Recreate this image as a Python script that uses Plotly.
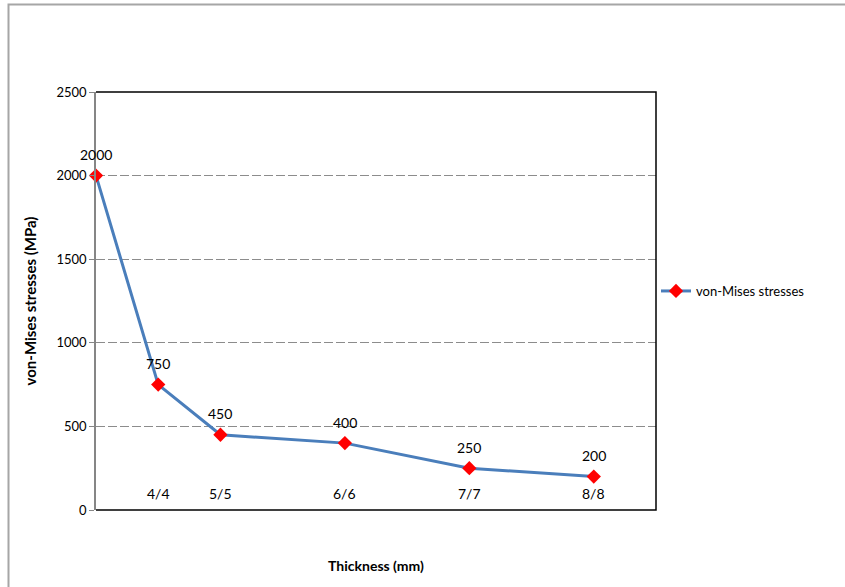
import plotly.graph_objects as go

# Thickness positions and von-Mises stress results
x_pos = [0, 1, 2, 4, 6, 8]
stress = [2000, 750, 450, 400, 250, 200]
tick_pos = [1, 2, 4, 6, 8]
tick_text = ["4/4", "5/5", "6/6", "7/7", "8/8"]
y_ticks = [0, 500, 1000, 1500, 2000, 2500]

FONT = "Lato, Open Sans, sans-serif"
W, H = 845, 587
ML, MR, MT, MB = 96, 189, 92, 77
pw, ph = W - ML - MR, H - MT - MB

fig = go.Figure()
fig.add_trace(go.Scatter(
    x=x_pos, y=stress, mode="lines+markers",
    name="von-Mises stresses",
    line=dict(color="#4A7EBB", width=3),
    marker=dict(symbol="diamond", size=11, color="#FF0000"),
    cliponaxis=False,
))

def px_x(p):
    return (p - ML) / pw

def px_y(p):
    return (H - MB - p) / ph

annotations = []
# value labels above each point
for xv, yv in zip(x_pos, stress):
    annotations.append(dict(x=xv, y=yv, xref="x", yref="y", text=str(yv),
                            showarrow=False, yshift=21, yanchor="middle",
                            font=dict(family=FONT, size=14, color="#000000")))
# thickness labels sitting just above the bottom axis
for xv, t in zip(tick_pos, tick_text):
    annotations.append(dict(x=xv, y=0, xref="x", yref="y", text=t,
                            showarrow=False, yshift=17, yanchor="middle",
                            font=dict(family=FONT, size=14, color="#000000")))

shapes = [
    # plot frame: top, right and bottom in black
    dict(type="path", xref="paper", yref="paper",
         path="M 0,1 L 1,1 L 1,0 L 0,0",
         line=dict(color="#000000", width=1.5)),
    # outer chart border (left and top)
    dict(type="path", xref="paper", yref="paper",
         path=f"M {px_x(8.5)},{px_y(600)} L {px_x(8.5)},{px_y(4.5)} L {px_x(860)},{px_y(4.5)}",
         line=dict(color="#A6A6A6", width=2)),
]

fig.update_layout(
    width=W, height=H,
    margin=dict(l=ML, r=MR, t=MT, b=MB),
    paper_bgcolor="white", plot_bgcolor="white",
    font=dict(family=FONT, size=13, color="#000000"),
    showlegend=True,
    legend=dict(x=px_x(656), y=px_y(291), xanchor="left", yanchor="middle",
                font=dict(family=FONT, size=13, color="#000000"),
                bgcolor="rgba(0,0,0,0)", itemwidth=30),
    shapes=shapes,
    annotations=annotations,
    xaxis=dict(
        range=[0, 9], showticklabels=False, ticks="", showgrid=False,
        zeroline=False, showline=False,
        title=dict(text="<b>Thickness (mm)</b>", font=dict(family=FONT, size=14), standoff=51),
    ),
    yaxis=dict(
        range=[0, 2500], tickmode="array", tickvals=y_ticks,
        ticks="outside", ticklen=5, tickcolor="#868686",
        showline=True, linecolor="#868686", linewidth=1.5,
        showgrid=True, gridcolor="#8C8C8C", griddash="9px,3px", gridwidth=1,
        zeroline=False, tickfont=dict(family=FONT, size=13, color="#000000"),
        title=dict(text="<b>von-Mises stresses (MPa)</b>", font=dict(family=FONT, size=15), standoff=16),
    ),
)

fig.write_html("out.html")
